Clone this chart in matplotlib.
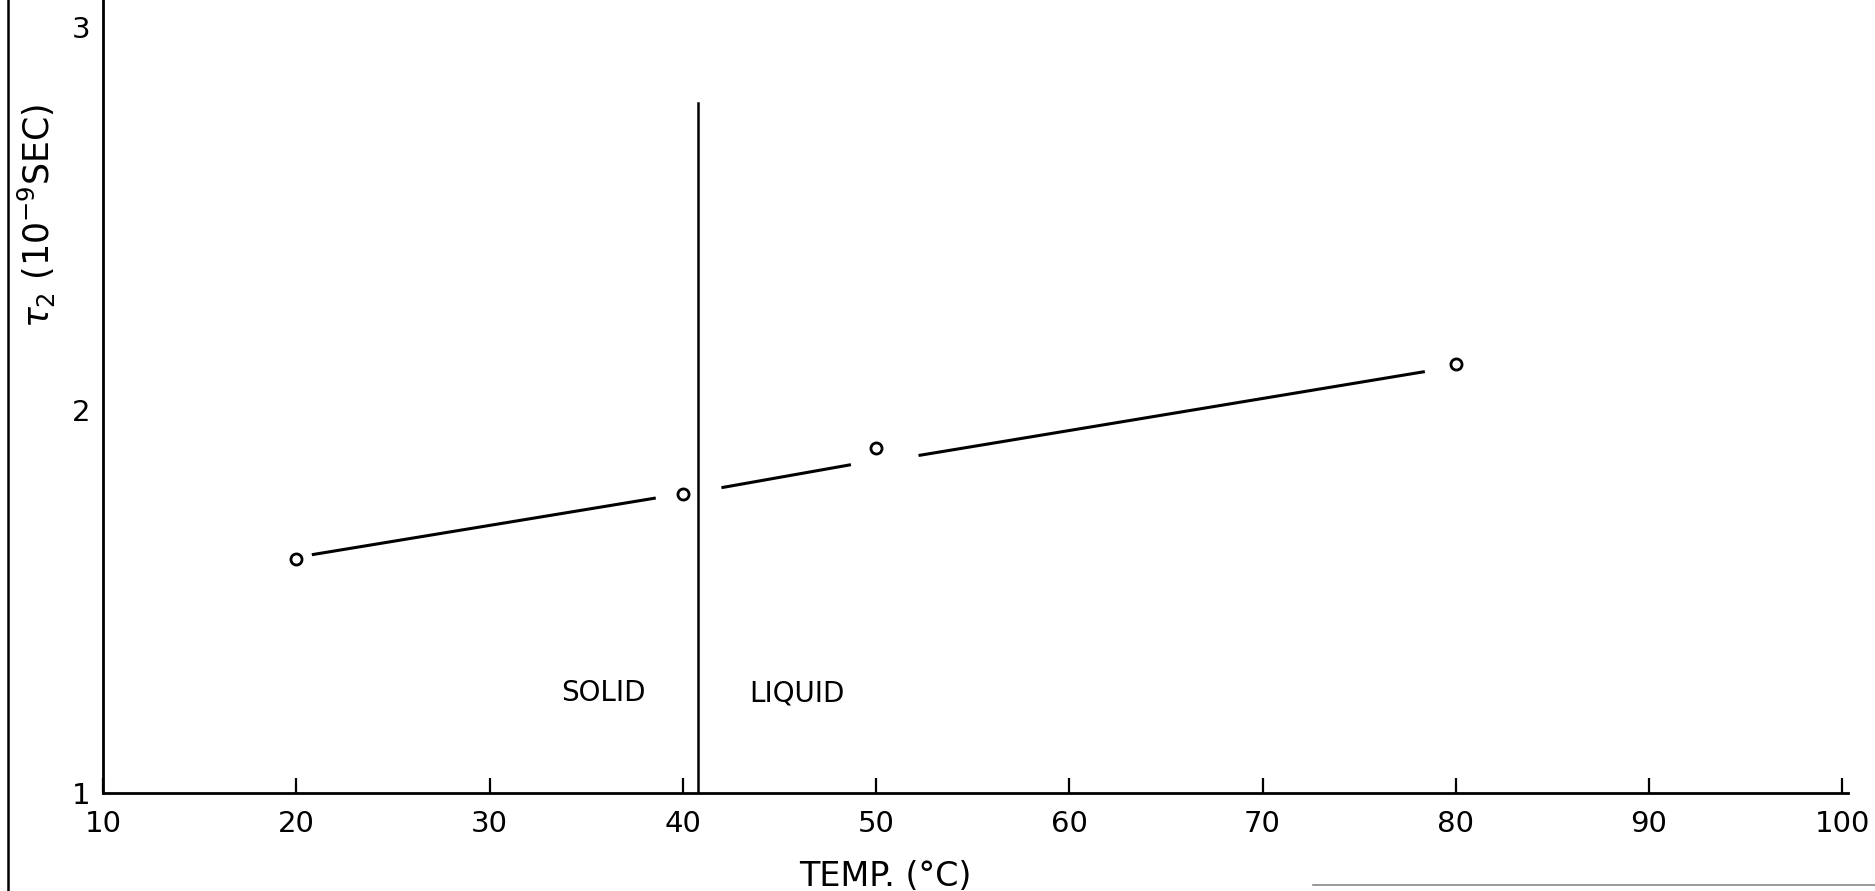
import numpy as np
import matplotlib.pyplot as plt
from matplotlib.lines import Line2D

# measured points
temp = [20, 40, 50, 80]
tau2 = [1.61, 1.78, 1.90, 2.12]

# fitted line, drawn in broken segments (gaps around the markers)
seg_x0 = [20.8, 42.0, 52.2]
seg_x1 = [38.6, 48.7, 78.4]
seg_y0 = [1.622, 1.797, 1.881]
seg_y1 = [1.770, 1.857, 2.100]

# melting point marker
melt_x = 40.8
melt_top = 2.80

xticks = [10, 20, 30, 40, 50, 60, 70, 80, 90, 100]
yticks = [1, 2, 3]

plt.rcParams['font.family'] = ['DejaVu Sans']

fig = plt.figure(figsize=(18.75, 8.91), dpi=100)
ax = fig.add_axes([0.055, 0.11, 0.9306, 0.89])

for x0, x1, y0, y1 in zip(seg_x0, seg_x1, seg_y0, seg_y1):
    ax.plot([x0, x1], [y0, y1], color='black', linewidth=2.2, solid_capstyle='butt')

ax.plot(temp, tau2, linestyle='none', marker='o', markersize=8, markerfacecolor='white',
        markeredgecolor='black', markeredgewidth=2)

ax.plot([melt_x, melt_x], [1, melt_top], color='black', linewidth=1.8)

ax.text(35.9, 1.26, 'SOLID', fontsize=20, ha='center', va='center')
ax.text(45.9, 1.26, 'LIQUID', fontsize=20, ha='center', va='center')

ax.set_xlim(10, 100.3)
ax.set_ylim(1, 3.07)
ax.set_xticks(xticks)
ax.set_yticks(yticks)
ax.tick_params(axis='x', direction='in', length=11, width=1.6, pad=12, labelsize=21)
ax.tick_params(axis='y', length=0, pad=9, labelsize=21)

for s in ['top', 'right']:
    ax.spines[s].set_visible(False)
for s in ['left', 'bottom']:
    ax.spines[s].set_linewidth(2)

ax.set_xlabel('TEMP. (°C)', fontsize=24)
ax.xaxis.set_label_coords(0.448, -0.085)
ax.set_ylabel(r'$\tau_2$ (10$^{-9}$SEC)', fontsize=25, va='center')
ax.yaxis.set_label_coords(-0.038, 0.728)

# scan border lines
fig.add_artist(Line2D([0.0045, 0.0045], [0, 1], color='black', linewidth=1.8, transform=fig.transFigure))
fig.add_artist(Line2D([0.70, 1.0], [0.007, 0.007], color='#888888', linewidth=1.2, transform=fig.transFigure))

plt.savefig('out.png', dpi=100)
